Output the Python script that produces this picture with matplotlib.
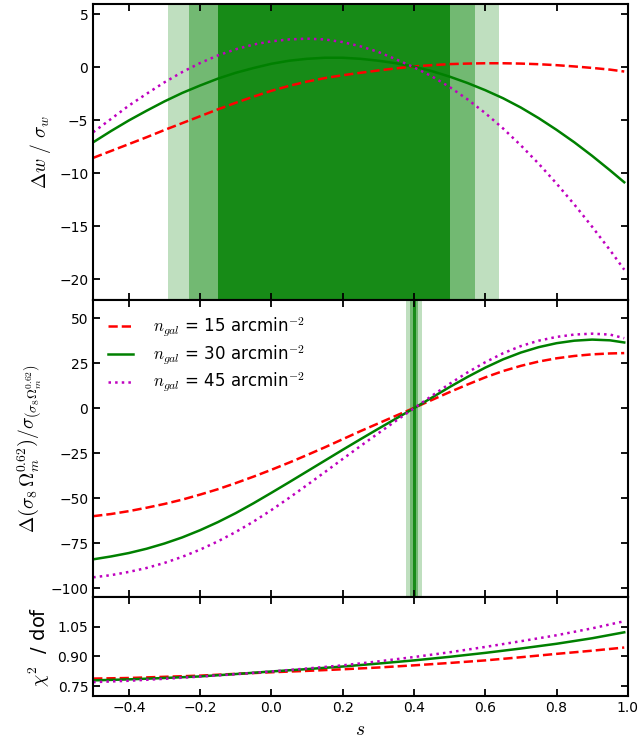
import matplotlib
matplotlib.use("Agg")
import matplotlib.pyplot as plt

# s values (curves stop just short of s = 1)
s_fine = [-0.5, -0.45, -0.4, -0.35, -0.3, -0.25, -0.2, -0.15, -0.1, -0.05,
          0.0, 0.05, 0.1, 0.15, 0.2, 0.25, 0.3, 0.35, 0.4, 0.45,
          0.5, 0.55, 0.6, 0.65, 0.7, 0.75, 0.8, 0.85, 0.9, 0.95, 0.99]
s_coarse = [-0.5, -0.4, -0.3, -0.2, -0.1, 0.0, 0.1, 0.2, 0.3, 0.4, 0.5, 0.6, 0.7, 0.8, 0.9, 0.99]

# top panel: Delta w / sigma_w
dw_15 = [-8.55, -7.9, -7.25, -6.6, -5.92, -5.27, -4.62, -3.97, -3.35, -2.77,
         -2.22, -1.75, -1.35, -1.02, -0.75, -0.52, -0.3, -0.1, 0.08, 0.2,
         0.3, 0.35, 0.38, 0.38, 0.35, 0.29, 0.2, 0.08, -0.06, -0.22, -0.4]
dw_30 = [-7.08, -6.02, -5.02, -4.1, -3.22, -2.42, -1.72, -1.07, -0.52, -0.07,
         0.33, 0.62, 0.8, 0.9, 0.9, 0.8, 0.62, 0.38, 0.06, -0.36,
         -0.88, -1.48, -2.16, -2.92, -3.8, -4.8, -5.9, -7.08, -8.36, -9.72, -10.85]
dw_45 = [-6.13, -4.88, -3.62, -2.5, -1.42, -0.45, 0.4, 1.12, 1.7, 2.15,
         2.45, 2.63, 2.7, 2.63, 2.38, 1.98, 1.45, 0.75, 0.0, -0.85,
         -1.86, -3.02, -4.32, -5.77, -7.37, -9.1, -10.97, -12.95, -15.05, -17.25, -19.1]

# middle panel: Delta(sigma8 Om^0.62) / sigma
ds_15 = [-60.0, -58.8, -57.2, -55.3, -53.2, -50.8, -48.0, -45.0, -41.6, -38.0,
         -34.2, -30.2, -26.0, -21.7, -17.2, -12.7, -8.4, -4.1, 0.2, 4.6,
         9.0, 13.2, 17.2, 20.7, 23.6, 26.0, 27.8, 29.1, 30.0, 30.5, 30.7]
ds_30 = [-84.0, -82.4, -80.5, -78.1, -75.2, -71.8, -67.8, -63.3, -58.3, -52.8,
         -47.0, -41.1, -35.1, -29.1, -23.1, -17.2, -11.4, -5.7, 0.0, 5.9,
         11.8, 17.4, 22.6, 27.2, 31.0, 34.0, 36.2, 37.6, 38.2, 37.8, 36.6]
ds_45 = [-94.0, -92.8, -91.0, -88.8, -86.0, -82.6, -78.6, -74.0, -68.8, -63.0,
         -56.6, -49.8, -42.7, -35.5, -28.2, -21.0, -13.9, -6.9, 0.0, 6.9,
         13.6, 19.9, 25.6, 30.6, 34.6, 37.6, 39.7, 41.0, 41.5, 41.0, 39.0]

# bottom panel: chi^2 / dof
chi_15 = [0.788, 0.791, 0.797, 0.803, 0.812, 0.820, 0.827, 0.835, 0.844, 0.855, 0.867, 0.880, 0.896, 0.913, 0.929, 0.945]
chi_30 = [0.779, 0.784, 0.791, 0.799, 0.811, 0.824, 0.836, 0.849, 0.864, 0.880, 0.898, 0.918, 0.940, 0.964, 0.992, 1.022]
chi_45 = [0.770, 0.777, 0.787, 0.798, 0.810, 0.824, 0.839, 0.855, 0.875, 0.897, 0.921, 0.948, 0.977, 1.007, 1.042, 1.078]

# 3/2/1 sigma ranges of s
w_bands = [(-0.29, 0.64), (-0.23, 0.57), (-0.15, 0.50)]
s8_bands = [(0.378, 0.422), (0.389, 0.412), (0.397, 0.405)]
band_alpha = [0.25, 0.4, 0.8]

labels = [r"$n_{gal}$ = 15 arcmin$^{-2}$",
          r"$n_{gal}$ = 30 arcmin$^{-2}$",
          r"$n_{gal}$ = 45 arcmin$^{-2}$"]
styles = [dict(color="r", ls="--", lw=1.8),
          dict(color="g", ls="-", lw=1.8),
          dict(color="m", ls=":", lw=1.8)]

plt.rcParams["mathtext.fontset"] = "cm"
plt.rcParams["font.size"] = 10

fig, axes = plt.subplots(3, 1, figsize=(6.38, 7.42), dpi=100, sharex=True,
                         gridspec_kw={"height_ratios": [3, 3, 1], "hspace": 0})
fig.subplots_adjust(left=0.146, right=0.984, top=0.995, bottom=0.062)
ax1, ax2, ax3 = axes

for (lo, hi), a in zip(w_bands, band_alpha):
    ax1.axvspan(lo, hi, color="green", alpha=a, lw=0)
for (lo, hi), a in zip(s8_bands, band_alpha):
    ax2.axvspan(lo, hi, color="green", alpha=a, lw=0)

for ys, st in zip([dw_15, dw_30, dw_45], styles):
    ax1.plot(s_fine, ys, **st)
for ys, st, lab in zip([ds_15, ds_30, ds_45], styles, labels):
    ax2.plot(s_fine, ys, label=lab, **st)
for ys, st in zip([chi_15, chi_30, chi_45], styles):
    ax3.plot(s_coarse, ys, **st)

ax1.set_ylim(-22, 6)
ax1.set_yticks([5, 0, -5, -10, -15, -20])
ax2.set_ylim(-105, 60)
ax2.set_yticks([50, 25, 0, -25, -50, -75, -100])
ax3.set_ylim(0.70, 1.20)
ax3.set_yticks([0.75, 0.90, 1.05])
ax3.set_xlim(-0.5, 1.0)
ax3.set_xticks([-0.4, -0.2, 0.0, 0.2, 0.4, 0.6, 0.8, 1.0])

ax1.set_ylabel(r"$\Delta w\ /\ \sigma_w$", fontsize=14)
ax2.set_ylabel(r"$\Delta\left(\sigma_8\,\Omega_m^{0.62}\right)/\sigma_{\left(\sigma_8\Omega_m^{0.62}\right)}$",
               fontsize=14)
ax3.set_ylabel(r"$\chi^2$  / dof", fontsize=14)
ax3.set_xlabel(r"$s$", fontsize=14)

for ax in axes:
    ax.tick_params(direction="in", top=True, right=True, length=5, width=1.3, labelsize=10)
    for sp in ax.spines.values():
        sp.set_linewidth(1.5)

ax2.legend(loc="upper left", frameon=False, fontsize=12, handlelength=1.5,
           handletextpad=1.2, labelspacing=0.25)

fig.savefig("out.png", dpi=100)
